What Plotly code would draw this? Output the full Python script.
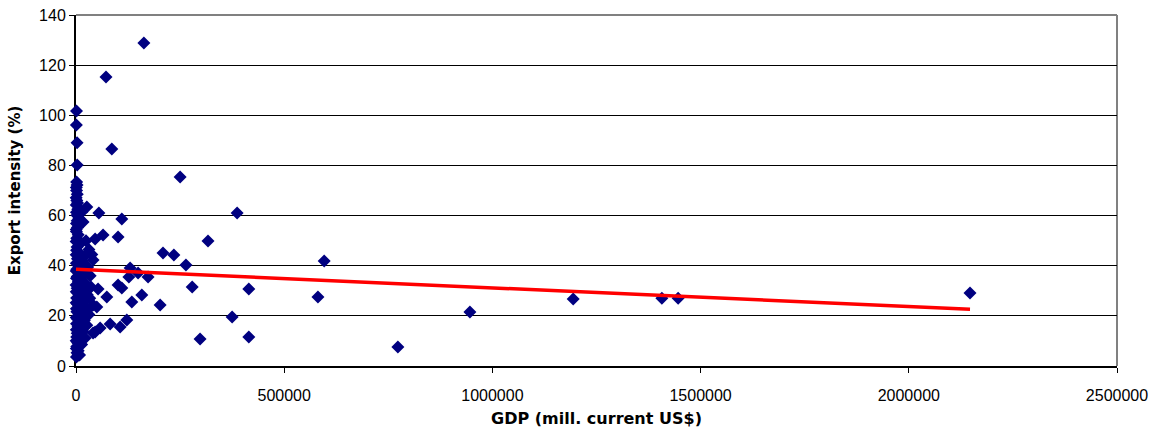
import plotly.graph_objects as go

# GDP (mill. current US$) and export intensity (%) per country
gdp = [
    # large / mid-sized economies
    163000, 72000, 86000, 250000, 55000, 110000, 387000, 46000, 65000, 101000,
    317000, 209000, 235000, 264000, 130000, 149000, 173000, 127000, 279000, 415000,
    101000, 110000, 53000, 74000, 158000, 134000, 202000, 50000, 375000, 122000,
    82000, 106000, 58000, 41000, 298000, 415000, 596000, 581000, 773000, 946000,
    1194000, 1407000, 1446000, 2147000, 26000, 17000, 41000, 41000, 46000, 22000,
    5000,
    # small economies
    1200, 900, 2500, 2800, 1500, 800, 3000, 1900, 600, 4200,
    2200, 7000, 1100, 3500, 900, 5200, 1800, 300, 8800, 2600,
    1300, 6200, 400, 9500, 3300, 15000, 700, 4800, 11000, 2000,
    500, 7600, 19000, 3000, 1000, 13000, 5600, 22000, 200, 8200,
    2700, 16000, 600, 4400, 27000, 10500, 1500, 6900, 18000, 350,
    3800, 12500, 24000, 900, 5900, 2100, 9000, 31000, 14500, 450,
    3600, 20000, 7500, 1200, 26000, 4900, 11500, 800, 17000, 2900,
    6400, 1600, 9800, 400, 4100, 13500, 1900, 700, 5300, 2400,
    8500, 1000, 1400, 2600, 500, 3800, 1000, 2900, 600, 4000,
    33000, 29000, 36000, 38000, 31000, 24000, 21000, 28000, 34000, 14000,
]
export_intensity = [
    128.8, 115.3, 86.6, 75.4, 61.0, 58.6, 61.0, 50.7, 52.3, 51.5,
    49.9, 45.1, 44.3, 40.3, 39.1, 37.1, 35.5, 35.5, 31.5, 30.7,
    32.3, 31.1, 30.7, 27.5, 28.3, 25.5, 24.3, 23.5, 19.5, 18.3,
    16.8, 15.6, 15.2, 13.2, 10.8, 11.6, 41.9, 27.5, 7.6, 21.5,
    26.7, 27.0, 27.0, 29.1, 63.4, 57.4, 42.3, 24.3, 13.6, 11.2,
    4.4,
    101.7, 96.1, 89.0, 80.2, 73.4, 71.2, 68.5, 66.0, 64.2, 62.5,
    60.1, 58.9, 56.8, 55.2, 53.6, 52.4, 51.0, 49.7, 48.6, 47.5,
    46.2, 45.3, 44.4, 43.6, 42.8, 41.9, 41.0, 40.2, 39.4, 38.6,
    37.9, 37.1, 36.4, 35.7, 35.0, 34.3, 33.6, 33.0, 32.3, 31.6,
    31.0, 30.3, 29.6, 29.0, 28.4, 27.7, 27.1, 26.5, 25.8, 25.2,
    24.6, 24.0, 23.4, 22.8, 22.2, 21.6, 21.0, 20.5, 19.9, 19.3,
    18.7, 18.1, 17.5, 16.9, 16.3, 15.7, 15.1, 14.5, 13.8, 13.1,
    12.4, 11.6, 10.9, 10.1, 9.3, 8.6, 7.8, 7.0, 6.1, 5.3,
    4.4, 3.6, 70.0, 72.2, 67.1, 65.0, 61.3, 57.9, 54.4, 50.3,
    27.0, 22.5, 31.5, 44.5, 46.5, 50.0, 44.0, 39.5, 36.0, 61.4,
]

# Linear trend: intercept (%) and slope (% per mill. US$)
trend_intercept = 38.6
trend_slope = -7.45e-6
trend_x = [0, max(gdp)]
trend_y = [trend_intercept + trend_slope * v for v in trend_x]

x_ticks = [0, 500000, 1000000, 1500000, 2000000, 2500000]
y_ticks = [0, 20, 40, 60, 80, 100, 120, 140]

fig = go.Figure()
fig.add_trace(go.Scatter(
    x=gdp, y=export_intensity, mode="markers",
    marker=dict(symbol="diamond", size=10, color="#000080",
                line=dict(width=0)),
    cliponaxis=False, showlegend=False,
))
fig.add_trace(go.Scatter(
    x=trend_x, y=trend_y, mode="lines",
    line=dict(color="#ff0000", width=3.5),
    cliponaxis=False, showlegend=False,
))

tick_font = dict(family="Liberation Sans, Arial, sans-serif", size=16, color="#000")
xtitle_font = dict(family="DejaVu Sans, sans-serif", size=16, color="#000")
ytitle_font = dict(family="DejaVu Sans, sans-serif", size=15, color="#000")

fig.update_layout(
    width=1159, height=428,
    margin=dict(l=76, r=42, t=15, b=62),
    paper_bgcolor="white", plot_bgcolor="white",
    xaxis=dict(
        range=[0, 2500000], tickvals=x_ticks,
        ticktext=[str(v) for v in x_ticks],
        showgrid=False, zeroline=False, automargin=False,
        showline=True, linecolor="#000", linewidth=2,
        ticks="outside", ticklen=5, tickcolor="#000", tickwidth=1,
        tickfont=tick_font, ticklabelstandoff=9,
        title=dict(text="<b>GDP (mill. current US$)</b>", font=xtitle_font),
        layer="below traces",
    ),
    yaxis=dict(
        range=[0, 140], tickvals=y_ticks,
        showgrid=True, gridcolor="#000", gridwidth=1,
        zeroline=False, automargin=False,
        showline=True, linecolor="#000", linewidth=2,
        ticks="outside", ticklen=5, tickcolor="#000", tickwidth=1,
        tickfont=tick_font,
        title=dict(text="<b>Export intensity (%)</b>", font=ytitle_font),
        layer="below traces",
    ),
    shapes=[
        dict(type="line", xref="paper", yref="paper", x0=0, x1=1, y0=1, y1=1,
             line=dict(color="#808080", width=2), layer="below"),
        dict(type="line", xref="paper", yref="paper", x0=1, x1=1, y0=0, y1=1,
             line=dict(color="#808080", width=2), layer="below"),
    ],
)

fig.write_html("out.html")
